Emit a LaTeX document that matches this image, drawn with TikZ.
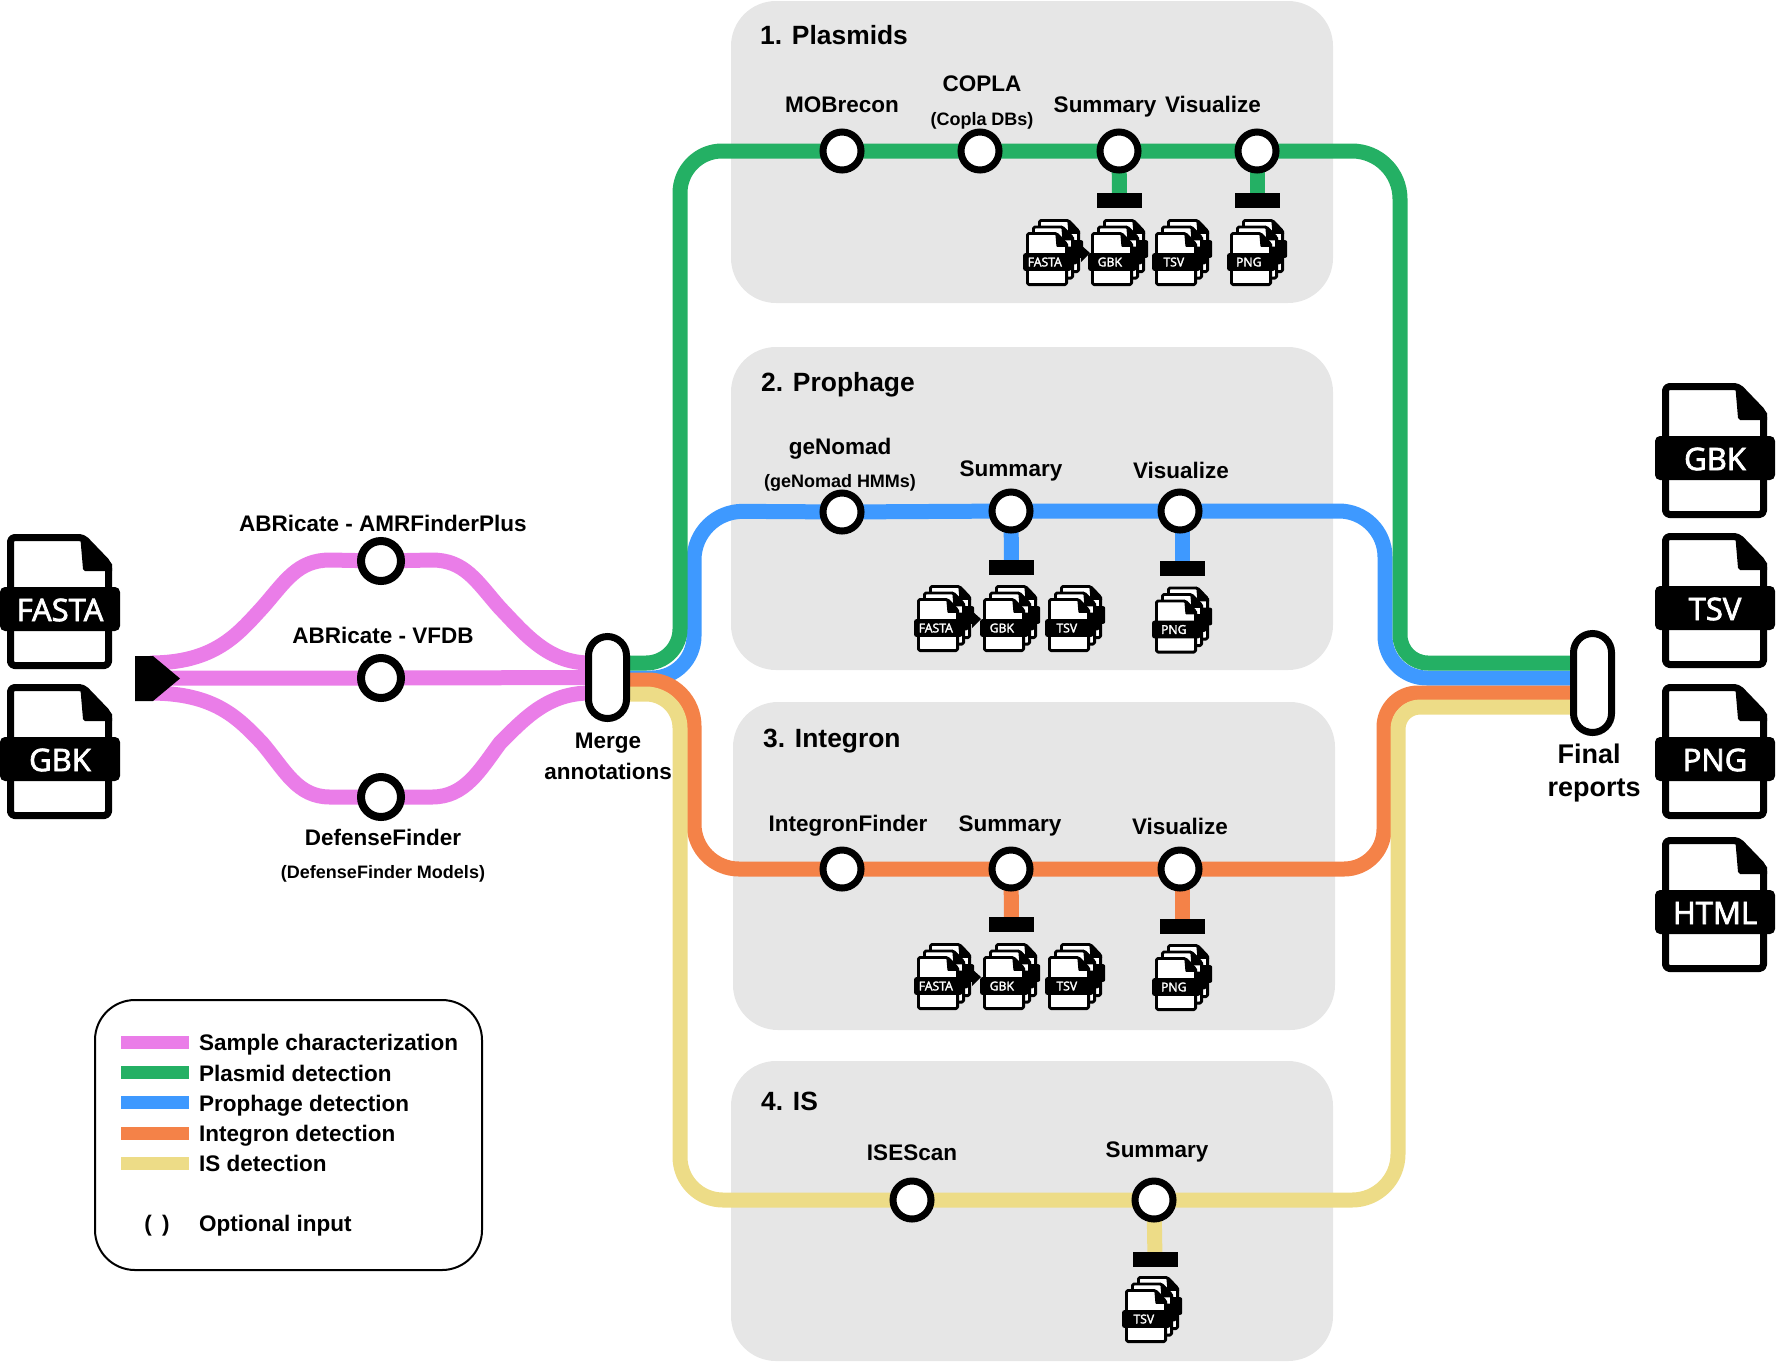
\documentclass[tikz,border=0pt]{standalone}
\usepackage{fontspec}
\setmainfont{Liberation Sans}
\newfontfamily\tagfont[FakeBold=2.5]{Open Sans}
\usetikzlibrary{calc,backgrounds}
\definecolor{cPurple}{HTML}{EA7DE8}
\definecolor{cGreen}{HTML}{24B064}
\definecolor{cBlue}{HTML}{3E99FF}
\definecolor{cOrange}{HTML}{F48248}
\definecolor{cYellow}{HTML}{EDDC87}
\definecolor{cPanel}{HTML}{E6E6E6}
\pgfdeclarelayer{panels}
\pgfdeclarelayer{lines}
\pgfsetlayers{panels,lines,main}
\newcommand{\fs}[1]{\fontsize{#1}{#1}\selectfont\bfseries}
\tikzset{
  station/.style={circle,draw=black,fill=white,line width=7pt,minimum size=38pt,inner sep=0pt,outer sep=0pt},
  stationL/.style={station,line width=8pt,minimum size=40pt},
  pill/.style={draw=black,fill=white,line width=7pt,minimum width=38pt,rounded corners=19pt,inner sep=0pt,outer sep=0pt},
  outbar/.style={fill=black,minimum width=45pt,minimum height=15pt,inner sep=0pt,outer sep=0pt},
  panel/.style={fill=cPanel,rounded corners=45pt},
  metro/.style={line width=15pt,line join=round},
  stem/.style={line width=15pt},
  txt/.style={text=black,inner sep=0pt,text height=7.2pt,text depth=2.1pt},
  lab/.style={txt,yshift=-5.7pt,font=\fs{22.5}},
  lablarge/.style={txt,yshift=-6.8pt,font=\fs{27}},
  sublab/.style={txt,yshift=-4.5pt,font=\fs{18}},
  paneltitle/.style={txt,yshift=-6.8pt,anchor=west,font=\fs{26.4}},
  leglab/.style={txt,yshift=-5.7pt,anchor=west,font=\fs{22.5}},
  legline/.style={line width=13pt},
}
\newcommand{\onepage}[1]{%
  \path[fill=white,draw=black,line width=#1*7pt,rounded corners=#1*4pt,line join=round]
    (3.5,3.5) -- (76,3.5) -- (101.5,30) -- (101.5,131.5) -- (3.5,131.5) -- cycle;
  \path[fill=black] (73,0) -- (105,30) -- (105,37) -- (78,37) -- (76,35) -- cycle;
  \path[fill=black,rounded corners=#1*5pt] (-7,53) rectangle (113,97);
}
\newcommand{\bigdoc}[4]{%
  \begin{scope}[shift={(#2,#3)},x=1pt,y=-1pt]
    \onepage{1}
    \node[inner sep=0pt,text=white,font=\tagfont\fontsize{31}{31}\selectfont] (#1) at (53,76) {#4};
  \end{scope}}
\newcommand{\smalldoc}[4]{%
  \begin{scope}[shift={(#2+12,#3-13)},x=0.4pt,y=-0.4pt]\onepage{0.4}\end{scope}
  \begin{scope}[shift={(#2+6,#3-6.5)},x=0.4pt,y=-0.4pt]\onepage{0.4}\end{scope}
  \begin{scope}[shift={(#2,#3)},x=0.4pt,y=-0.4pt]
    \onepage{0.4}
    \node[inner sep=0pt,text=white,font=\tagfont\fontsize{12.2}{12.2}\selectfont] (#1) at (47,75) {#4};
  \end{scope}}
\newcommand{\tagtip}[2]{\path[fill=black] (#1+55,#2+13) -- (#1+64,#2+21) -- (#1+55,#2+30) -- cycle;}
\begin{document}
\begin{tikzpicture}[x=1pt,y=-1pt]
\useasboundingbox (0,0) rectangle (1776,1361);

% stations and junctions
\node[stationL] (ab1) at (381,561) {};
\node[stationL] (ab2) at (381,678) {};
\node[stationL] (ab3) at (381,797) {};
\node[pill,minimum height=82pt] (merge) at (607.5,677.5) {};
\node[pill,minimum height=99pt] (final) at (1592.5,683) {};
\node[station] (p1) at (842,151) {};
\node[station] (p2) at (980,151) {};
\node[station] (p3) at (1119,151) {};
\node[station] (p4) at (1257,151) {};
\node[station] (g1) at (842,512) {};
\node[station] (g2) at (1011,511) {};
\node[station] (g3) at (1180,511) {};
\node[station] (n1) at (842,869) {};
\node[station] (n2) at (1011,869) {};
\node[station] (n3) at (1180,869) {};
\node[station] (s1) at (912,1200) {};
\node[station] (s2) at (1154,1200) {};

% output bars
\node[outbar] (bp3) at (1119.5,200.5) {};
\node[outbar] (bp4) at (1257,200.5) {};
\node[outbar] (bg2) at (1011.5,567) {};
\node[outbar] (bg3) at (1182,568.5) {};
\node[outbar] (bn2) at (1011.5,924) {};
\node[outbar] (bn3) at (1182,926.5) {};
\node[outbar] (bs2) at (1155,1259.5) {};

% start
\path[fill=black] (135,656) coordinate (startA) -- (153,656) -- (180,678.5) coordinate (startTip) -- (153,701) -- (135,701) -- cycle;

% routing corners
\coordinate (gA) at (680,663);
\coordinate (gB) at (680,151);
\coordinate (gC) at (1400,151);
\coordinate (gD) at (1400,663);
\coordinate (bA) at (694,678);
\coordinate (bB) at (694,511);
\coordinate (bC) at (1385,511);
\coordinate (bD) at (1385,678);
\coordinate (oA) at (694,680);
\coordinate (oB) at (694,869);
\coordinate (oC) at (1384,869);
\coordinate (oD) at (1384,693);
\coordinate (yA) at (680,694);
\coordinate (yB) at (680,1200);
\coordinate (yC) at (1398,1200);
\coordinate (yD) at (1398,707);
\coordinate (mTop) at (590,663);
\coordinate (mBot) at (590,693);
\coordinate (stTop) at (150,663);
\coordinate (stMid) at (150,678);
\coordinate (stBot) at (150,693);

\begin{pgfonlayer}{panels}
  \fill[panel] (731,1) rectangle (1333,303);
  \fill[panel] (731,347) rectangle (1333,670);
  \fill[panel] (733,702) rectangle (1335,1030);
  \fill[panel] (731,1061) rectangle (1333,1361);
\end{pgfonlayer}

\begin{pgfonlayer}{lines}
  % blue
  \draw[metro,cBlue] (merge.center |- bA) [rounded corners=42pt] -- (bA) [rounded corners=49pt] -- (bB) -- (g1.center) -- (g2.center) -- (g3.center) [rounded corners=46pt] -- (bC) [rounded corners=42pt] -- (bD) -- (final.center |- bD);
  \draw[stem,cBlue] (g2.center) -- (bg2.center);
  \draw[stem,cBlue] (g3.center -| bg3.center) -- (bg3.center);
  % green
  \draw[metro,cGreen] (merge.center |- gA) [rounded corners=34pt] -- (gA) [rounded corners=42pt] -- (gB) -- (p1.center) -- (p2.center) -- (p3.center) -- (p4.center) [rounded corners=48pt] -- (gC) [rounded corners=28pt] -- (gD) -- (final.center |- gD);
  \draw[stem,cGreen] (p3.center) -- (bp3.center);
  \draw[stem,cGreen] (p4.center) -- (bp4.center);
  % orange
  \draw[metro,cOrange] (merge.center |- oA) [rounded corners=46pt] -- (oA) [rounded corners=45pt] -- (oB) -- (n1.center) -- (n2.center) -- (n3.center) [rounded corners=40pt] -- (oC) [rounded corners=34pt] -- (oD) -- (final.center |- oD);
  \draw[stem,cOrange] (n2.center) -- (bn2.center);
  \draw[stem,cOrange] (n3.center -| bn3.center) -- (bn3.center);
  % yellow
  \draw[metro,cYellow] (merge.center |- yA) [rounded corners=34pt] -- (yA) [rounded corners=43pt] -- (yB) -- (s1.center) -- (s2.center) [rounded corners=46pt] -- (yC) [rounded corners=22pt] -- (yD) -- (final.center |- yD);
  \draw[stem,cYellow] (s2.center) -- (bs2.center);
  % purple
  \draw[stem,cPurple] (stTop) .. controls (215,663) and (238,634) .. (262,608) .. controls (285,582) and (297,560) .. (330,560) -- (ab1.center) -- (432,560) .. controls (465,560) and (477,582) .. (500,608) .. controls (525,634) and (548,663) .. (mTop);
  \draw[stem,cPurple] (stMid) -- (ab2.center) -- (merge.center);
  \draw[stem,cPurple] (stBot) .. controls (215,693) and (238,718) .. (262,743) .. controls (285,770) and (297,797) .. (330,797) -- (ab3.center) -- (432,797) .. controls (465,797) and (480,770) .. (500,743) .. controls (525,718) and (548,693) .. (mBot);
\end{pgfonlayer}

% large files
\bigdoc{dFasta}{7}{534}{FASTA}
\bigdoc{dGbkL}{7}{684}{GBK}
\bigdoc{dGbkR}{1662}{383}{GBK}
\bigdoc{dTsvR}{1662}{533}{TSV}
\bigdoc{dPngR}{1662}{684}{PNG}
\bigdoc{dHtmlR}{1662}{837}{HTML}

% small files
\tagtip{1026}{232}
\tagtip{917}{598}
\tagtip{917}{956}
\smalldoc{fp1}{1026}{232}{FASTA}
\smalldoc{fp2}{1091}{232}{GBK}
\smalldoc{fp3}{1155}{232}{TSV}
\smalldoc{fp4}{1230}{232}{PNG}
\smalldoc{fg1}{917}{598}{FASTA}
\smalldoc{fg2}{983}{598}{GBK}
\smalldoc{fg3}{1048}{598}{TSV}
\smalldoc{fg4}{1155}{599.5}{PNG}
\smalldoc{fn1}{917}{956}{FASTA}
\smalldoc{fn2}{983}{956}{GBK}
\smalldoc{fn3}{1048}{956}{TSV}
\smalldoc{fn4}{1155}{957}{PNG}
\smalldoc{fs1}{1125}{1289}{TSV}

% titles
\node[paneltitle] (t1) at (760,35) {1. Plasmids};
\node[paneltitle] (t2) at (761,382) {2. Prophage};
\node[paneltitle] (t3) at (763,738) {3. Integron};
\node[paneltitle] (t4) at (761,1101) {4. IS};

% labels
\node[lab] (l1) at (842,104) {MOBrecon};
\node[lab] (l2) at (982,83) {COPLA};
\node[sublab] (l2b) at (982,118) {(Copla DBs)};
\node[lab] (l3) at (1105,104) {Summary};
\node[lab] (l4) at (1213,104) {Visualize};
\node[lab] (l5) at (840,446) {geNomad};
\node[sublab] (l5b) at (840,480) {(geNomad HMMs)};
\node[lab] (l6) at (1011,468) {Summary};
\node[lab] (l7) at (1181,470) {Visualize};
\node[lab] (l8) at (848,823) {IntegronFinder};
\node[lab] (l9) at (1010,823) {Summary};
\node[lab] (l10) at (1180,826) {Visualize};
\node[lab] (l11) at (912,1152) {ISEScan};
\node[lab] (l12) at (1157,1149) {Summary};
\node[lab] (l13) at (383,523) {ABRicate - AMRFinderPlus};
\node[lab] (l14) at (383,635) {ABRicate - VFDB};
\node[lab] (l15) at (383,837) {DefenseFinder};
\node[sublab] (l15b) at (383,871) {(DefenseFinder Models)};
\node[lab] (l16) at (608,740) {Merge};
\node[lab] (l17) at (608,771) {annotations};
\node[lablarge] (l18) at (1589,754) {Final};
\node[lablarge] (l19) at (1594,787) {reports};

% legend
\node[draw=black,line width=2pt,rounded corners=40pt,minimum width=387pt,minimum height=270pt,inner sep=0pt] (legend) at (288.5,1135) {};
\coordinate (k1a) at (121,1042); \coordinate (k1b) at (189,1042);
\coordinate (k2a) at (121,1072); \coordinate (k2b) at (189,1072);
\coordinate (k3a) at (121,1102); \coordinate (k3b) at (189,1102);
\coordinate (k4a) at (121,1133); \coordinate (k4b) at (189,1133);
\coordinate (k5a) at (121,1163); \coordinate (k5b) at (189,1163);
\draw[legline,cPurple] (k1a) -- (k1b);
\draw[legline,cGreen] (k2a) -- (k2b);
\draw[legline,cBlue] (k3a) -- (k3b);
\draw[legline,cOrange] (k4a) -- (k4b);
\draw[legline,cYellow] (k5a) -- (k5b);
\node[leglab] (k1) at (199,1042) {Sample characterization};
\node[leglab] (k2) at (199,1073) {Plasmid detection};
\node[leglab] (k3) at (199,1103) {Prophage detection};
\node[leglab] (k4) at (199,1133) {Integron detection};
\node[leglab] (k5) at (199,1163) {IS detection};
\node[lab] (k6sym) at (157,1223) {(\hspace{4pt} )};
\node[leglab] (k6) at (199,1223) {Optional input};
\end{tikzpicture}
\end{document}
